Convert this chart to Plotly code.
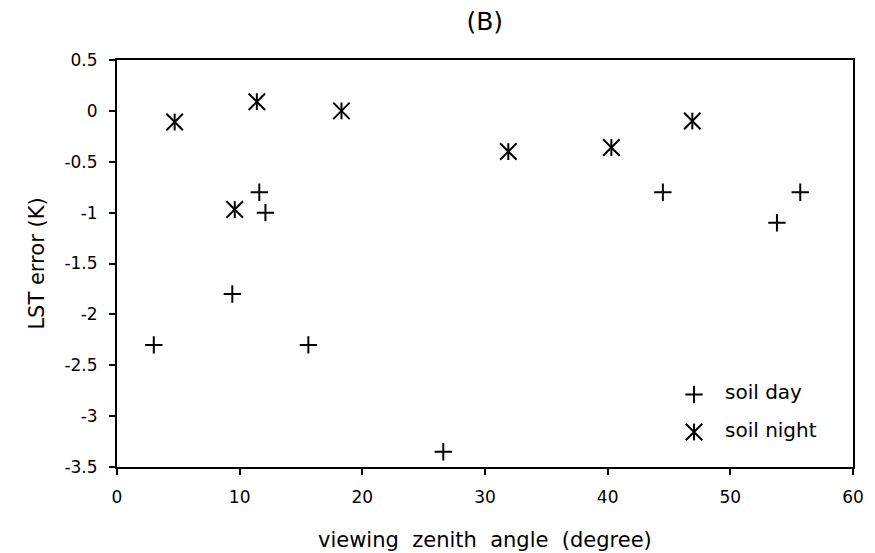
import plotly.graph_objects as go

# LST error versus viewing zenith angle, bare soil sites
day_angle = [3.0, 9.4, 11.6, 12.1, 15.6, 26.6, 44.5, 53.8, 55.7]
day_error = [-2.3, -1.8, -0.8, -1.0, -2.3, -3.35, -0.8, -1.1, -0.8]

night_angle = [4.7, 9.6, 11.4, 18.3, 31.9, 40.3, 46.9]
night_error = [-0.11, -0.97, 0.09, 0.0, -0.4, -0.36, -0.1]

x_ticks = [0, 10, 20, 30, 40, 50, 60]
y_ticks = [0.5, 0, -0.5, -1, -1.5, -2, -2.5, -3, -3.5]
y_tick_text = ["0.5", "0", "-0.5", "-1", "-1.5", "-2", "-2.5", "-3", "-3.5"]

FONT = "DejaVu Sans, Arial, sans-serif"
BLACK = "#000000"

PLUS = dict(symbol="cross-thin-open", size=12.4, color=BLACK,
            line=dict(color=BLACK, width=2))
STAR_X = dict(symbol="x-thin-open", size=16.5, color=BLACK,
              line=dict(color=BLACK, width=2))
STAR_V = dict(symbol="line-ns-open", size=12, color=BLACK,
              line=dict(color=BLACK, width=2))

fig = go.Figure()

fig.add_trace(go.Scatter(x=day_angle, y=day_error, mode="markers",
                         name="soil day", marker=PLUS))
# six-armed star: diagonal cross plus a vertical stroke
fig.add_trace(go.Scatter(x=night_angle, y=night_error, mode="markers",
                         name="soil night", marker=STAR_X))
fig.add_trace(go.Scatter(x=night_angle, y=night_error, mode="markers",
                         showlegend=False, marker=STAR_V))

# legend drawn on an overlay axis spanning the plot area
legend_labels = ["soil day", "soil night"]
legend_rows = [0.178, 0.086]
fig.add_trace(go.Scatter(x=[0.784], y=[legend_rows[0]], xaxis="x2", yaxis="y2",
                         mode="markers", showlegend=False, marker=PLUS))
for mk in (STAR_X, STAR_V):
    fig.add_trace(go.Scatter(x=[0.784], y=[legend_rows[1]], xaxis="x2", yaxis="y2",
                             mode="markers", showlegend=False, marker=mk))
for lbl, ypos in zip(legend_labels, legend_rows):
    fig.add_annotation(x=0.823, y=ypos + 0.006, xref="x2", yref="y2", text=lbl,
                       showarrow=False, xanchor="left", yanchor="middle",
                       font=dict(family=FONT, size=20, color=BLACK))

# x-axis title placed below the tick labels
fig.add_annotation(x=0.5, y=0, xref="paper", yref="paper", yshift=-73,
                   text="viewing  zenith  angle  (degree)", showarrow=False,
                   xanchor="center", yanchor="middle",
                   font=dict(family=FONT, size=21, color=BLACK))

fig.update_layout(
    width=875, height=553,
    margin=dict(l=117, r=22, t=60, b=86),
    paper_bgcolor="white", plot_bgcolor="white",
    showlegend=False,
    title=dict(text="(B)", x=0.554, xanchor="center", y=0.962, yanchor="middle",
               font=dict(family=FONT, size=25, color=BLACK)),
    font=dict(family=FONT, size=16, color=BLACK),
    xaxis=dict(
        range=[0, 60], tickvals=x_ticks, ticks="outside", ticklen=6, tickwidth=2,
        tickcolor=BLACK, showline=True, linecolor=BLACK, linewidth=2, mirror=True,
        showgrid=False, zeroline=False, ticklabelstandoff=8, automargin=False,
        tickfont=dict(family=FONT, size=17, color=BLACK),
    ),
    yaxis=dict(
        range=[-3.5, 0.5], tickvals=y_ticks, ticktext=y_tick_text, ticks="outside",
        ticklen=6, tickwidth=2, tickcolor=BLACK, showline=True, linecolor=BLACK,
        linewidth=2, mirror=True, showgrid=False, zeroline=False,
        ticklabelstandoff=8, automargin=False,
        tickfont=dict(family=FONT, size=17, color=BLACK),
        title=dict(text="LST error (K)", standoff=14,
                   font=dict(family=FONT, size=21, color=BLACK)),
    ),
    xaxis2=dict(range=[0, 1], overlaying="x", visible=False, fixedrange=True),
    yaxis2=dict(range=[0, 1], overlaying="y", visible=False, fixedrange=True),
)

fig.write_html("out.html")
